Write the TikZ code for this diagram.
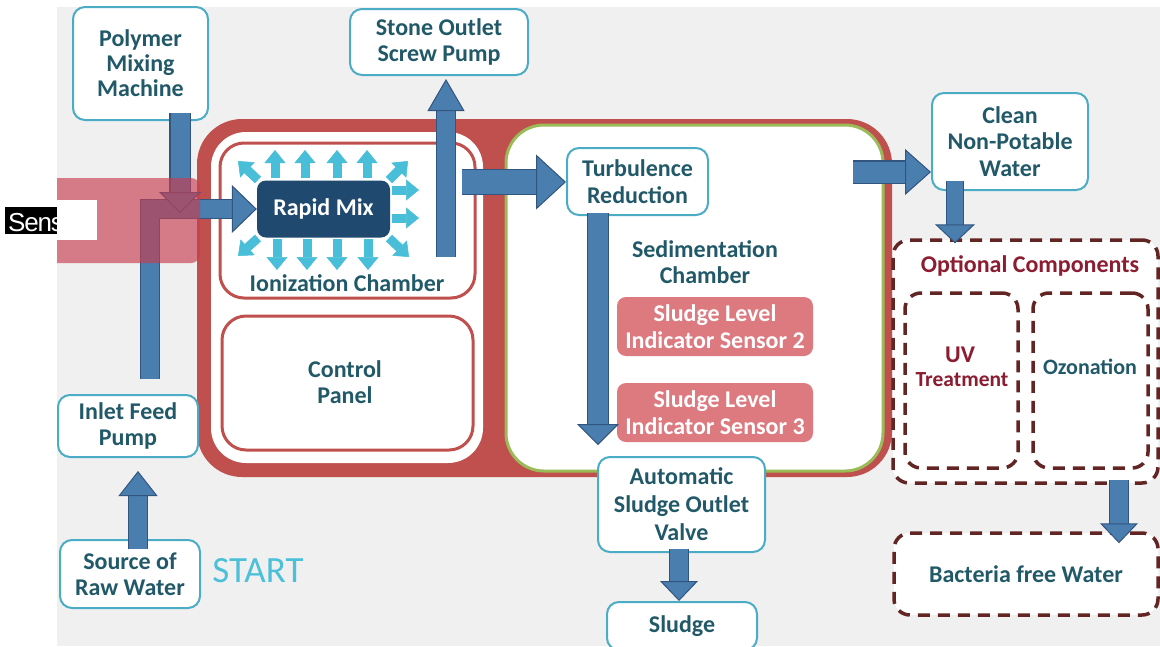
\documentclass[tikz,border=0pt]{standalone}
\usepackage{fontspec}
\setmainfont{Carlito}
\newfontfamily\arialfam{Liberation Sans}
\usetikzlibrary{arrows.meta,calc}
\definecolor{bggray}{RGB}{240,240,240}
\definecolor{chred}{RGB}{192,80,77}
\definecolor{sedolive}{RGB}{155,187,89}
\definecolor{boxteal}{RGB}{75,172,198}
\definecolor{txteal}{RGB}{33,89,104}
\definecolor{navyc}{RGB}{31,73,110}
\definecolor{sparkc}{RGB}{72,190,216}
\definecolor{arrowblue}{RGB}{74,126,174}
\definecolor{arrowedge}{RGB}{50,85,128}
\definecolor{sensorpink}{RGB}{220,122,128}
\definecolor{maroonc}{RGB}{99,37,35}
\definecolor{maroontext}{RGB}{140,28,48}
\definecolor{bandred}{RGB}{200,60,80}
\definecolor{startcyan}{RGB}{75,192,217}
\newcommand\boxfont{\bfseries\fontsize{24}{26.5}\selectfont}
\begin{document}
\begin{tikzpicture}[x=1pt,y=-1pt,
  box/.style={draw=boxteal, line width=2pt, fill=white, rounded corners=12pt, align=center, text=txteal, font=\boxfont, inner sep=0pt},
  lbl/.style={align=center, text=txteal, font=\boxfont, inner sep=0pt},
  sensorbox/.style={fill=sensorpink, rounded corners=9pt, align=center, text=white, font=\boxfont, inner sep=0pt, minimum width=196pt, minimum height=59pt},
  dashbox/.style={draw=maroonc, fill=white, line width=3.5pt, dash pattern=on 12pt off 8pt, rounded corners=16pt, inner sep=0pt},
  flow/.style n args={5}{line width=#1, draw=arrowblue, line join=miter,
     preaction={draw=arrowedge, line width=#2, -, shorten >=#5},
     -{Triangle[length=#4, width=#3, line width=1pt, color=arrowedge, fill=arrowblue]}},
  spark/.style={line width=9pt, draw=sparkc, -{Triangle[length=13pt, width=21pt, line width=0.5pt]}}
]
\useasboundingbox (0,0) rectangle (1160,646);
\clip (0,0) rectangle (1160,646);
\fill[white] (0,0) rectangle (1160,646);
\fill[bggray] (57,7) rectangle (1160,646);

% main containers
\fill[chred, rounded corners=45pt] (197,119) rectangle (892,477);
\fill[white, rounded corners=35pt] (211,132) rectangle (483,463);
\draw[sedolive, line width=3pt, fill=white, rounded corners=38pt] (506,125) rectangle (883,471);
\draw[chred, line width=3pt, fill=white, rounded corners=24pt] (220,143) rectangle (475,298);
\draw[chred, line width=3pt, fill=white, rounded corners=24pt] (222,316) rectangle (473,450);

\node[lbl] (ionlbl) at (347,283) {Ionization Chamber};
\node[lbl] (ctrllbl) at (345,382) {Control\\Panel};
\node[lbl] (sedlbl) at (705,262) {Sedimentation\\Chamber};

% rapid mix and sparks
\node[fill=navyc, rounded corners=9pt, minimum width=133pt, minimum height=57pt, text=white, font=\boxfont, inner sep=0pt] (rapid) at (323.5,209) {Rapid Mix};
\foreach \xx in {275,305,337,367} \draw[spark] (\xx,178) -- (\xx,150);
\foreach \xx in {277,307,337,368} \draw[spark] (\xx,239) -- (\xx,270);
\foreach \yy in {190,218} \draw[spark] (392,\yy) -- (419,\yy);
\draw[spark] (258,180) -- (238,161);
\draw[spark] (389,180) -- (408,161);
\draw[spark] (258,238) -- (238,256);
\draw[spark] (389,238) -- (409,257);

% sensors
\node[sensorbox] (sens2) at (715,326.5) {Sludge Level\\Indicator Sensor 2};
\node[sensorbox] (sens3) at (715,412.5) {Sludge Level\\Indicator Sensor 3};

% boxes
\node[box, minimum width=135pt, minimum height=113pt, font=\bfseries\fontsize{24}{25}\selectfont] (poly) at (140.5,63.5) {Polymer\\Mixing\\Machine};
\node[box, minimum width=178pt, minimum height=66pt] (stone) at (439,42) {Stone Outlet\\Screw Pump};
\node[box, minimum width=141pt, minimum height=67pt] (turb) at (637.5,181.5) {Turbulence\\Reduction};
\node[box, minimum width=156pt, minimum height=97pt] (clean) at (1010,141.5) {Clean\\Non-Potable\\Water};
\node[box, minimum width=140pt, minimum height=62pt] (inlet) at (128,426) {Inlet Feed\\Pump};
\node[box, minimum width=140pt, minimum height=68pt] (source) at (130,574) {Source of\\Raw Water};
\node[box, minimum width=167pt, minimum height=95pt, font=\bfseries\fontsize{24}{28}\selectfont] (valve) at (681.5,504.5) {Automatic\\Sludge Outlet\\Valve};
\node[box, minimum width=150pt, minimum height=48pt] (sludge) at (682,626) {Sludge};

\node[text=startcyan, font=\fontsize{37}{40}\selectfont, inner sep=0pt] (startlbl) at (258,571) {START};

% optional components
\node[dashbox, minimum width=265pt, minimum height=243pt] (opt) at (1025.5,361.5) {};
\node[dashbox, minimum width=113pt, minimum height=175pt] (uv) at (961.5,380.5) {};
\node[dashbox, minimum width=115pt, minimum height=175pt] (ozon) at (1090.5,380.5) {};
\node[lbl, text=maroontext] (optlbl) at (1030,266) {Optional Components};
\node[lbl, text=maroontext] (uvlbl) at (960,355) {UV};
\node[lbl, text=maroontext, font=\bfseries\fontsize{21.5}{24}\selectfont] (trtlbl) at (962,380) {Treatment};
\node[lbl, font=\bfseries\fontsize{22}{24}\selectfont] (ozlbl) at (1090,367) {Ozonation};
\node[dashbox, minimum width=264pt, minimum height=82pt, text=txteal, font=\boxfont] (bact) at (1026,574) {Bacteria free Water};

% flow arrows
\coordinate (mixin) at (180,213);
\coordinate (stonefoot) at (446,257);
\coordinate (ionout) at (462,182);
\coordinate (settle) at (598,445);
\coordinate (sedout) at (853,172);
\draw[flow={18pt}{20.5pt}{48pt}{25pt}{23pt}] ($(inlet.north)+(22,-15)$) |- (rapid.west);
\draw[flow={19pt}{21.5pt}{42pt}{21pt}{19pt}] ($(poly.south -| mixin)+(0,-8)$) -- (mixin);
\draw[flow={18pt}{20.5pt}{37pt}{32pt}{30pt}] (stonefoot) -- ($(stone.south)+(7,3)$);
\draw[flow={24pt}{26.5pt}{55pt}{30pt}{28pt}] (ionout) -- (ionout -| turb.west);
\draw[flow={20pt}{22.5pt}{42pt}{21pt}{19pt}] ($(turb.south)+(-39.5,-3)$) -- (settle);
\draw[flow={21pt}{23.5pt}{46pt}{26pt}{24pt}] (sedout) -- (sedout -| clean.west);
\draw[flow={16pt}{18.5pt}{40pt}{19pt}{17pt}] ($(clean.south)+(-55,-10)$) -- ($(opt.north)+(-70.5,5)$);
\draw[flow={18pt}{20.5pt}{38pt}{20pt}{18pt}] ($(opt.south)+(93.5,-5)$) -- ($(bact.north)+(93,12)$);
\draw[flow={18pt}{20.5pt}{39pt}{25pt}{23pt}] ($(source.north)+(8,10)$) -- ($(inlet.south)+(10,13)$);
\draw[flow={18pt}{20.5pt}{38pt}{20pt}{18pt}] ($(valve.south)+(-2.5,-4)$) -- ($(sludge.north)+(-3,0)$);

% translucent band on the left
\begin{scope}
\clip (57,0) rectangle (400,646);
\fill[bandred, opacity=0.65, rounded corners=9pt] (30,178) rectangle (200,263);
\end{scope}
\fill[white] (57,200) rectangle (97,240);
\fill[black] (5,207) rectangle (57,234);
\begin{scope}
\clip (5,207) rectangle (57,234);
\node[anchor=base west, text=white, font=\arialfam\fontsize{26}{28}\selectfont, inner sep=0pt] (sens) at (8,231) {S\kern-1.2pt e\kern-1.2pt n\kern-1.2pt s};
\end{scope}
\end{tikzpicture}
\end{document}
